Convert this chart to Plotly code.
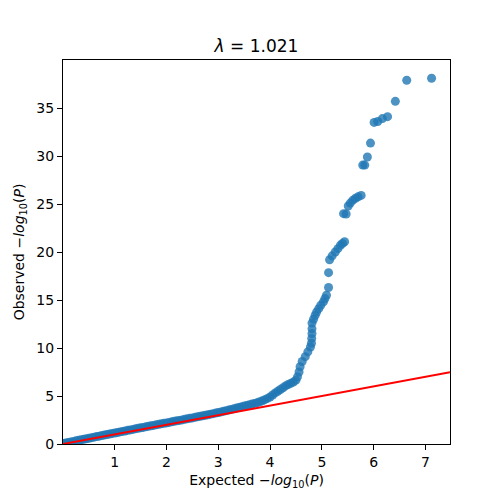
import plotly.graph_objects as go

# Expected -log10(P) and observed -log10(P)
expected = [
    0.00, 0.05, 0.10, 0.15, 0.20, 0.25, 0.30, 0.35, 0.40, 0.45,
    0.50, 0.55, 0.60, 0.65, 0.70, 0.75, 0.80, 0.85, 0.90, 0.95,
    1.00, 1.05, 1.10, 1.15, 1.20, 1.25, 1.30, 1.35, 1.40, 1.45,
    1.50, 1.55, 1.60, 1.65, 1.70, 1.75, 1.80, 1.85, 1.90, 1.95,
    2.00, 2.05, 2.10, 2.15, 2.20, 2.25, 2.30, 2.35, 2.40, 2.45,
    2.50, 2.55, 2.60, 2.65, 2.70, 2.75, 2.80, 2.85, 2.90, 2.95,
    3.00, 3.05, 3.10, 3.15, 3.20, 3.25, 3.30, 3.35, 3.40, 3.45,
    3.50, 3.55, 3.60, 3.65, 3.70, 3.75, 3.80, 3.85, 3.90, 3.95,
    4.00, 4.05, 4.10, 4.15, 4.20, 4.25, 4.30, 4.35, 4.40, 4.45,
    4.50, 4.53, 4.56, 4.58, 4.62, 4.68, 4.73, 4.78, 4.80, 4.805,
    4.81, 4.81, 4.81, 4.84, 4.87, 4.90, 4.94, 4.98, 5.03, 5.06,
    5.09, 5.13, 5.13,
    5.15, 5.20, 5.26, 5.31, 5.36, 5.40, 5.44,
    5.42, 5.47,
    5.51, 5.55, 5.60, 5.65, 5.70, 5.76,
    5.79, 5.83, 5.88, 5.94,
    6.01, 6.08, 6.17, 6.27, 6.42, 6.64, 7.12,
]
observed = [
    0.05, 0.11, 0.16, 0.22, 0.27, 0.33, 0.38, 0.44, 0.49, 0.55,
    0.60, 0.66, 0.71, 0.77, 0.82, 0.88, 0.93, 0.99, 1.04, 1.10,
    1.15, 1.20, 1.26, 1.31, 1.36, 1.42, 1.47, 1.52, 1.58, 1.63,
    1.68, 1.73, 1.79, 1.84, 1.89, 1.94, 2.00, 2.05, 2.10, 2.15,
    2.20, 2.25, 2.31, 2.36, 2.41, 2.46, 2.51, 2.57, 2.62, 2.67,
    2.72, 2.78, 2.83, 2.89, 2.94, 3.00, 3.05, 3.11, 3.16, 3.22,
    3.28, 3.34, 3.40, 3.47, 3.53, 3.60, 3.67, 3.74, 3.81, 3.88,
    3.95, 4.02, 4.09, 4.16, 4.23, 4.30, 4.40, 4.50, 4.62, 4.75,
    4.90, 5.10, 5.32, 5.50, 5.68, 5.86, 6.05, 6.20, 6.32, 6.45,
    6.65, 7.00, 7.50, 8.05, 8.60, 9.10, 9.60, 10.10, 10.50, 11.00,
    11.50, 12.00, 12.60, 13.00, 13.40, 13.75, 14.10, 14.45, 14.80, 15.15,
    15.50, 16.30, 17.85,
    19.20, 19.60, 20.00, 20.35, 20.70, 20.90, 21.07,
    24.00, 23.96,
    24.80, 25.10, 25.40, 25.60, 25.75, 25.90,
    29.06, 29.06, 29.90, 31.35,
    33.50, 33.60, 33.90, 34.10, 35.70, 37.90, 38.10,
]

x_ticks = [1, 2, 3, 4, 5, 6, 7]
y_ticks = [0, 5, 10, 15, 20, 25, 30, 35]
title_text = "<i>λ</i> = 1.021"
x_title = "Expected −<i>log</i><sub>10</sub>(<i>P</i>)"
y_title = "Observed −<i>log</i><sub>10</sub>(<i>P</i>)"

x_max = max(expected) * 1.05
y_max = max(observed) * 1.05

FONT = "DejaVu Sans"

fig = go.Figure()
fig.add_trace(go.Scatter(
    x=expected, y=observed, mode="markers",
    marker=dict(size=9, color="rgba(31,119,180,0.8)", line=dict(width=0)),
    showlegend=False, hoverinfo="skip",
))
fig.add_trace(go.Scatter(
    x=[0, x_max], y=[0, x_max], mode="lines",
    line=dict(color="red", width=2),
    showlegend=False, hoverinfo="skip",
))

axis_common = dict(
    showline=True, linecolor="black", linewidth=1.1, mirror=True,
    ticks="outside", ticklen=5, tickwidth=1.1, tickcolor="black",
    showgrid=False, zeroline=False,
    tickfont=dict(family=FONT, size=14, color="black"),
)

fig.update_layout(
    width=500, height=500,
    margin=dict(l=63, r=50, t=60, b=56),
    paper_bgcolor="white", plot_bgcolor="white",
    font=dict(family=FONT, size=14, color="black"),
    title=dict(text=title_text, x=0.513, xanchor="center",
               y=1 - 46 / 500, yanchor="middle", yref="container",
               font=dict(family=FONT, size=17, color="black")),
    xaxis=dict(range=[0, x_max], tickvals=x_ticks,
               title=dict(text=x_title, standoff=6,
                          font=dict(family=FONT, size=14)),
               **axis_common),
    yaxis=dict(range=[0, y_max], tickvals=y_ticks,
               title=dict(text=y_title, standoff=8,
                          font=dict(family=FONT, size=14)),
               **axis_common),
)

fig.write_html("out.html")
